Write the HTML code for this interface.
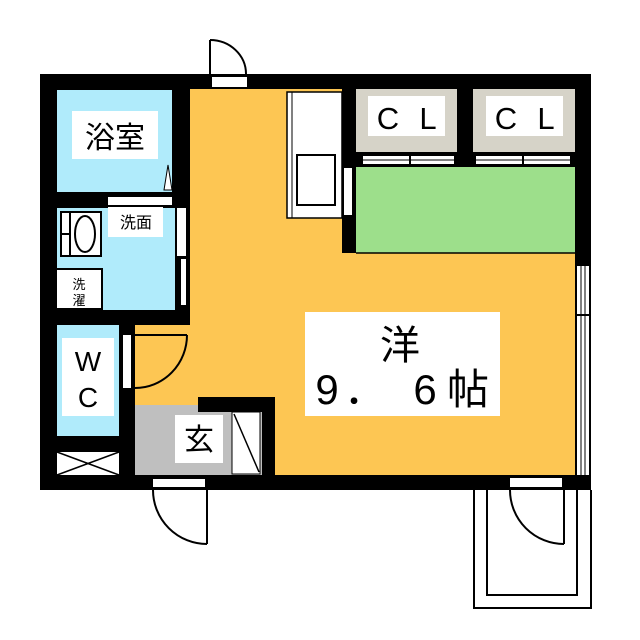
<!DOCTYPE html>
<html><head><meta charset="utf-8"><style>
html,body{margin:0;padding:0;background:#fff}
svg{display:block}
text{font-family:"Liberation Sans","Noto Sans CJK JP",sans-serif;fill:#000}
</style></head><body>
<svg width="640" height="640" viewBox="0 0 640 640">
<rect x="40" y="74" width="551" height="416" fill="#000"/>
<rect x="190" y="89" width="385" height="386" fill="#fdc653"/>
<rect x="135" y="325" width="60" height="150" fill="#fdc653"/>
<rect x="57" y="90" width="115" height="102" fill="#b0ebfb"/>
<rect x="57" y="208" width="118" height="102" fill="#b0ebfb"/>
<rect x="57" y="325" width="62" height="111" fill="#b0ebfb"/>
<rect x="57" y="452" width="62" height="23" fill="#fff"/>
<line x1="57" y1="452" x2="119" y2="475" stroke="#000" stroke-width="1.5"/>
<line x1="57" y1="475" x2="119" y2="452" stroke="#000" stroke-width="1.5"/>
<rect x="135" y="405" width="127" height="70" fill="#bfbfbf"/>
<rect x="198" y="397" width="77" height="15" fill="#000"/>
<rect x="262" y="397" width="13" height="78" fill="#000"/>
<rect x="232" y="412" width="28" height="62" fill="#fff" stroke="#000" stroke-width="1"/>
<line x1="234" y1="414" x2="259" y2="472" stroke="#000" stroke-width="1.5"/>
<rect x="175" y="193" width="15" height="132" fill="#000"/>
<rect x="177" y="208" width="9" height="48" fill="#fff"/>
<rect x="181" y="259" width="5" height="46" fill="#fff"/>
<rect x="108" y="197" width="64" height="8" fill="#fff"/>
<path d="M164,190 L168,165 L172,190 Z" fill="#fff" stroke="#000" stroke-width="1"/>
<rect x="61" y="212" width="40" height="44" fill="#fff" stroke="#000" stroke-width="2"/>
<line x1="70" y1="212" x2="70" y2="256" stroke="#000" stroke-width="2"/>
<line x1="61" y1="234" x2="70" y2="234" stroke="#000" stroke-width="2"/>
<ellipse cx="85" cy="234" rx="10" ry="18" fill="#fff" stroke="#000" stroke-width="2"/>
<rect x="56" y="269" width="46" height="40" fill="#fff" stroke="#000" stroke-width="2"/>
<rect x="72" y="111" width="86" height="48" fill="#fff"/>
<text x="115" y="148" font-size="30" text-anchor="middle">浴室</text>
<rect x="108" y="207" width="55" height="30" fill="#fff"/>
<text x="136" y="228" font-size="16" text-anchor="middle">洗面</text>
<text x="79" y="289" font-size="13" text-anchor="middle">洗</text>
<text x="79" y="305" font-size="13" text-anchor="middle">濯</text>
<rect x="62" y="338" width="52" height="78" fill="#fff"/>
<text x="88" y="371" font-size="28" text-anchor="middle">W</text>
<text x="88" y="407" font-size="28" text-anchor="middle">C</text>
<rect x="175" y="415" width="48" height="48" fill="#fff"/>
<text x="199" y="450" font-size="30" text-anchor="middle">玄</text>
<rect x="123" y="335" width="8" height="53" fill="#fff"/>
<line x1="135" y1="335" x2="187" y2="335" stroke="#000" stroke-width="2"/>
<path d="M187,335 A52,53 0 0 1 135,388" fill="none" stroke="#000" stroke-width="2"/>
<rect x="153" y="479" width="52" height="8" fill="#fff"/>
<line x1="207" y1="490" x2="207" y2="544" stroke="#000" stroke-width="2"/>
<path d="M153,490 A54,54 0 0 0 207,544" fill="none" stroke="#000" stroke-width="2"/>
<rect x="212" y="77" width="35" height="10" fill="#fff"/>
<line x1="210" y1="40" x2="210" y2="74" stroke="#000" stroke-width="2"/>
<path d="M210,40 A36,34 0 0 1 246,74" fill="none" stroke="#000" stroke-width="2"/>
<rect x="287" y="92" width="55" height="126" fill="#fff" stroke="#000" stroke-width="1.5"/>
<line x1="292" y1="92" x2="292" y2="218" stroke="#000" stroke-width="1"/>
<rect x="297" y="155" width="38" height="50" fill="#fff" stroke="#000" stroke-width="2"/>
<rect x="342" y="89" width="14" height="164" fill="#000"/>
<rect x="344" y="168" width="8" height="47" fill="#fff"/>
<rect x="356" y="89" width="101" height="63" fill="#d6d3c8"/>
<rect x="473" y="89" width="102" height="63" fill="#d6d3c8"/>
<rect x="457" y="89" width="16" height="78" fill="#000"/>
<rect x="356" y="152" width="219" height="15" fill="#000"/>
<rect x="368" y="96" width="77" height="40" fill="#fff"/>
<rect x="486" y="96" width="77" height="40" fill="#fff"/>
<text x="388" y="129" font-size="31" text-anchor="middle">C</text>
<text x="428" y="129" font-size="31" text-anchor="middle">L</text>
<text x="506" y="129" font-size="31" text-anchor="middle">C</text>
<text x="546" y="129" font-size="31" text-anchor="middle">L</text>
<rect x="363" y="156" width="91" height="8" fill="#fff"/>
<line x1="363" y1="160" x2="454" y2="160" stroke="#000" stroke-width="1"/>
<line x1="410" y1="152" x2="410" y2="168" stroke="#000" stroke-width="2"/>
<rect x="476" y="156" width="94" height="8" fill="#fff"/>
<line x1="476" y1="160" x2="570" y2="160" stroke="#000" stroke-width="1"/>
<line x1="523" y1="152" x2="523" y2="168" stroke="#000" stroke-width="2"/>
<rect x="356" y="167" width="219" height="86" fill="#9ddf8b"/>
<line x1="356" y1="253" x2="575" y2="253" stroke="#000" stroke-width="1.5"/>
<rect x="577" y="266" width="12" height="209" fill="#fff"/>
<line x1="581" y1="266" x2="581" y2="475" stroke="#000" stroke-width="1"/>
<line x1="585" y1="266" x2="585" y2="475" stroke="#000" stroke-width="1"/>
<line x1="575" y1="315" x2="591" y2="315" stroke="#000" stroke-width="2"/>
<rect x="305" y="312" width="195" height="104" fill="#fff"/>
<text x="400" y="359" font-size="40" text-anchor="middle">洋</text>
<text x="327" y="404" font-size="42" text-anchor="middle">9</text>
<text x="365" y="404" font-size="42" text-anchor="middle">．</text>
<text x="425" y="404" font-size="42" text-anchor="middle">6</text>
<text x="468" y="404" font-size="42" text-anchor="middle">帖</text>
<rect x="510" y="478" width="52" height="9" fill="#fff"/>
<path d="M474,490 V608 H591 V490" fill="none" stroke="#000" stroke-width="2"/>
<path d="M487,490 V595 H577 V490" fill="none" stroke="#000" stroke-width="2"/>
<line x1="564" y1="490" x2="564" y2="544" stroke="#000" stroke-width="2"/>
<path d="M510,490 A54,54 0 0 0 564,544" fill="none" stroke="#000" stroke-width="2"/>
</svg>
</body></html>
